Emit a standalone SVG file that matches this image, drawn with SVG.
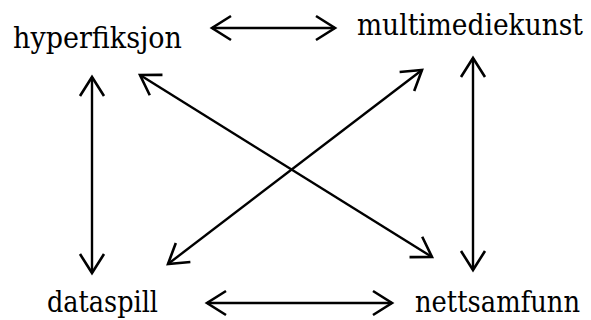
<svg xmlns="http://www.w3.org/2000/svg" width="591" height="320" viewBox="0 0 591 320">
<style>
.lbl{font-family:'DejaVu Serif','Liberation Serif','Times New Roman',serif;font-size:30px;fill:#000}
.c{stroke:#000;stroke-width:2.4;fill:none;marker-start:url(#ah);marker-end:url(#ah)}
</style>
<defs>
<marker id="ah" markerUnits="userSpaceOnUse" viewBox="-22 -14 24 28" refX="0" refY="0" markerWidth="24" markerHeight="28" orient="auto-start-reverse" overflow="visible">
<path d="M-19,-12 L0,0 L-19,12" fill="none" stroke="#000" stroke-width="2.6" stroke-linejoin="miter"/>
</marker>
</defs>
<rect width="591" height="320" fill="#fff"/>
<g id="connectors">
<line class="c" x1="212" y1="28" x2="335" y2="28"/>
<line class="c" x1="207" y1="303" x2="392" y2="303"/>
<line class="c" x1="92" y1="77" x2="92" y2="273"/>
<line class="c" x1="473" y1="58" x2="473" y2="270"/>
<line class="c" x1="140" y1="75" x2="432" y2="257"/>
<line class="c" x1="422" y1="70" x2="168" y2="264"/>
</g>
<g id="hyperfiksjon"><text class="lbl" x="13" y="48" textLength="169" lengthAdjust="spacingAndGlyphs">hyperfiksjon</text></g>
<g id="multimediekunst"><text class="lbl" x="357" y="35" textLength="226" lengthAdjust="spacingAndGlyphs">multimediekunst</text></g>
<g id="dataspill"><text class="lbl" x="47" y="312" textLength="111" lengthAdjust="spacingAndGlyphs">dataspill</text></g>
<g id="nettsamfunn"><text class="lbl" x="415" y="312" textLength="165" lengthAdjust="spacingAndGlyphs">nettsamfunn</text></g>
</svg>
